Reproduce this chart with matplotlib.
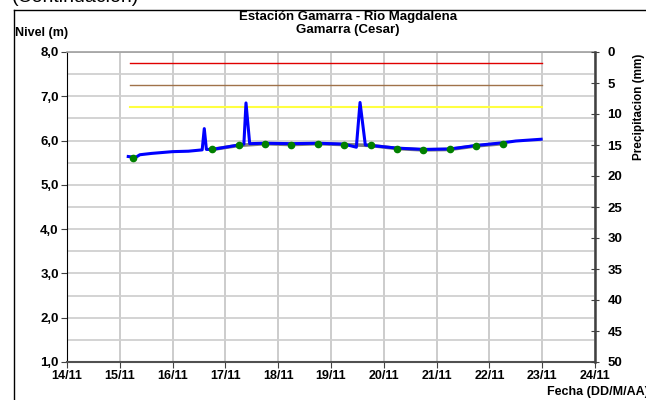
import matplotlib
matplotlib.use("Agg")
import matplotlib.pyplot as plt
import numpy as np

plt.rcParams['font.family'] = ['Liberation Sans', 'DejaVu Sans']

# ---- data ----
day_ticks = list(range(14, 25))
day_labels = [f"{d}/11" for d in day_ticks]
nivel_ticks = [1, 2, 3, 4, 5, 6, 7, 8]
nivel_labels = ["1,0", "2,0", "3,0", "4,0", "5,0", "6,0", "7,0", "8,0"]
precip_ticks = list(range(0, 55, 5))

nivel_x = [15.16, 15.30, 15.38, 15.60, 16.00, 16.30, 16.56, 16.60, 16.64, 16.75,
           17.00, 17.35, 17.39, 17.46, 17.75, 18.25, 18.75, 19.25, 19.48, 19.55,
           19.65, 19.75, 20.25, 20.75, 21.25, 21.75, 22.25, 22.50, 22.98]
nivel_y = [5.64, 5.62, 5.68, 5.71, 5.75, 5.76, 5.79, 6.27, 5.80, 5.80,
           5.85, 5.92, 6.85, 5.93, 5.94, 5.93, 5.94, 5.92, 5.85, 6.86,
           5.90, 5.89, 5.83, 5.80, 5.81, 5.89, 5.95, 5.99, 6.03]

ref_x = [15.25, 16.75, 17.25, 17.75, 18.25, 18.75, 19.25, 19.75, 20.25, 20.75,
         21.25, 21.75, 22.25]
ref_y = [5.61, 5.80, 5.89, 5.93, 5.91, 5.93, 5.91, 5.89, 5.82, 5.79,
         5.80, 5.88, 5.93]

umbral_x = [15.2, 23.0]
umbral_rojo = 7.75
umbral_naranja = 7.25
umbral_amarillo = 6.75

fig = plt.figure(figsize=(6.46, 4.0), dpi=100)
ax = fig.add_axes([67/646, 1-362/400, (595-67)/646, (362-52)/400])

# frame box
fig.add_artist(plt.Line2D([14/646, 14/646], [0, 1-10/400], color='black', lw=1, transform=fig.transFigure))
fig.add_artist(plt.Line2D([14/646, 1], [1-10/400, 1-10/400], color='black', lw=1, transform=fig.transFigure))
fig.text(12/646, 1-2.5/400, "(Continuación)", fontsize=14, ha='left', va='baseline')

ax.set_xlim(14, 24)
ax.set_ylim(1, 8)
ax.set_xticks(day_ticks)
ax.set_xticklabels(day_labels, fontsize=9, fontweight='bold')
ax.set_yticks(nivel_ticks)
ax.set_yticklabels(nivel_labels, fontsize=9.5, fontweight='bold')
ax.set_yticks(np.arange(1, 8.01, 0.5), minor=True)
ax.tick_params(axis='y', which='minor', length=0)
ax.tick_params(axis='both', which='major', length=4, direction='out', pad=2, color='#404040')
ax.grid(True, which='both', axis='y', color='#d0d0d0', lw=1.3)
ax.grid(True, which='major', axis='x', color='#c4c4c4', lw=1.2)
ax.set_axisbelow(True)

ax.spines['top'].set_color('#a0a0a0')
ax.spines['top'].set_linewidth(1.2)
ax.spines['left'].set_color('black')
ax.spines['bottom'].set_color('#505050')
ax.spines['bottom'].set_linewidth(1.5)
ax.spines['right'].set_visible(False)

ax.plot(umbral_x, [umbral_rojo]*2, color='#e00000', lw=1.0, zorder=2)
ax.plot(umbral_x, [umbral_naranja]*2, color='#a0724a', lw=1.0, zorder=2)
ax.plot(umbral_x, [umbral_amarillo]*2, color='#ffff40', lw=1.5, zorder=2)

ax.plot(ref_x[1:], ref_y[1:], color='#808080', lw=2.6, zorder=3, solid_capstyle='round')
ax.plot(nivel_x, nivel_y, color='#0000ff', lw=2.2, zorder=4, solid_joinstyle='round')
ax.plot(ref_x, ref_y, linestyle='none', marker='o', ms=4.5, color='#008000', zorder=5)

ax2 = ax.twinx()
ax2.set_ylim(50, 0)
ax2.set_yticks(precip_ticks)
ax2.set_yticklabels([str(t) for t in precip_ticks], fontsize=9.5, fontweight='bold')
ax2.tick_params(axis='y', length=6, direction='inout', pad=6, color='#404040')
for s in ['top', 'left', 'bottom']:
    ax2.spines[s].set_visible(False)
ax2.spines['right'].set_color('#404040')
ax2.spines['right'].set_linewidth(1.8)
ax2.set_ylabel("Precipitacion (mm)", fontsize=8.5, fontweight='bold', va='center')
ax2.yaxis.set_label_coords((639-67)/528, (362-107)/310)

fig.text(348/646, 1-17/400, "Estación Gamarra - Rio Magdalena", fontsize=9.5, fontweight='bold', ha='center', va='center')
fig.text(348/646, 1-30/400, "Gamarra (Cesar)", fontsize=9.5, fontweight='bold', ha='center', va='center')
fig.text(15/646, 1-33/400, "Nivel (m)", fontsize=9, fontweight='bold', ha='left', va='center')
fig.text(547/646, 1-392/400, "Fecha (DD/M/AA)", fontsize=9, fontweight='bold', ha='left', va='center')

fig.savefig("out.png", dpi=100)
